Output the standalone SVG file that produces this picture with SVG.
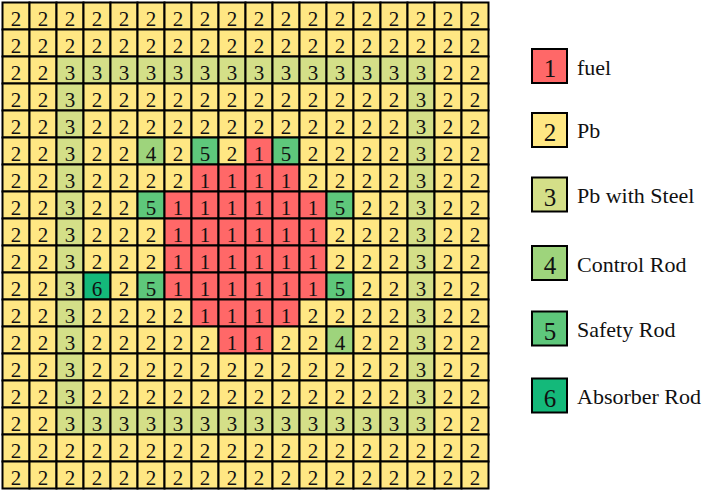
<svg xmlns="http://www.w3.org/2000/svg" width="706" height="493" viewBox="0 0 706 493" font-family="'Liberation Serif', 'DejaVu Serif', serif">
<style>
rect{width:27px;height:27px;stroke:#000;stroke-width:2}
.k1{fill:#FF6868}.k2{fill:#FFE783}.k3{fill:#D4DF88}.k4{fill:#9ED47C}.k5{fill:#5EC77B}.k6{fill:#14B97A}
text{font-family:'Liberation Serif','DejaVu Serif',serif;fill:#111}
.g text{font-size:21px;text-anchor:middle}
.lg rect{width:35px;height:34px}
.lg .d{font-size:25px;text-anchor:middle}
.lg .t{font-size:22px}
</style>
<rect x="0" y="0" width="706" height="493" style="width:706px;height:493px;fill:#fff;stroke:none"/>
<g id="grid" class="g">
<g id="row0" transform="translate(0,2.5)"><rect x="2.5" class="k2"/><text x="16" y="23">2</text><rect x="29.5" class="k2"/><text x="43" y="23">2</text><rect x="56.5" class="k2"/><text x="70" y="23">2</text><rect x="83.5" class="k2"/><text x="97" y="23">2</text><rect x="110.5" class="k2"/><text x="124" y="23">2</text><rect x="137.5" class="k2"/><text x="151" y="23">2</text><rect x="164.5" class="k2"/><text x="178" y="23">2</text><rect x="191.5" class="k2"/><text x="205" y="23">2</text><rect x="218.5" class="k2"/><text x="232" y="23">2</text><rect x="245.5" class="k2"/><text x="259" y="23">2</text><rect x="272.5" class="k2"/><text x="286" y="23">2</text><rect x="299.5" class="k2"/><text x="313" y="23">2</text><rect x="326.5" class="k2"/><text x="340" y="23">2</text><rect x="353.5" class="k2"/><text x="367" y="23">2</text><rect x="380.5" class="k2"/><text x="394" y="23">2</text><rect x="407.5" class="k2"/><text x="421" y="23">2</text><rect x="434.5" class="k2"/><text x="448" y="23">2</text><rect x="461.5" class="k2"/><text x="475" y="23">2</text></g>
<g id="row1" transform="translate(0,29.5)"><rect x="2.5" class="k2"/><text x="16" y="23">2</text><rect x="29.5" class="k2"/><text x="43" y="23">2</text><rect x="56.5" class="k2"/><text x="70" y="23">2</text><rect x="83.5" class="k2"/><text x="97" y="23">2</text><rect x="110.5" class="k2"/><text x="124" y="23">2</text><rect x="137.5" class="k2"/><text x="151" y="23">2</text><rect x="164.5" class="k2"/><text x="178" y="23">2</text><rect x="191.5" class="k2"/><text x="205" y="23">2</text><rect x="218.5" class="k2"/><text x="232" y="23">2</text><rect x="245.5" class="k2"/><text x="259" y="23">2</text><rect x="272.5" class="k2"/><text x="286" y="23">2</text><rect x="299.5" class="k2"/><text x="313" y="23">2</text><rect x="326.5" class="k2"/><text x="340" y="23">2</text><rect x="353.5" class="k2"/><text x="367" y="23">2</text><rect x="380.5" class="k2"/><text x="394" y="23">2</text><rect x="407.5" class="k2"/><text x="421" y="23">2</text><rect x="434.5" class="k2"/><text x="448" y="23">2</text><rect x="461.5" class="k2"/><text x="475" y="23">2</text></g>
<g id="row2" transform="translate(0,56.5)"><rect x="2.5" class="k2"/><text x="16" y="23">2</text><rect x="29.5" class="k2"/><text x="43" y="23">2</text><rect x="56.5" class="k3"/><text x="70" y="23">3</text><rect x="83.5" class="k3"/><text x="97" y="23">3</text><rect x="110.5" class="k3"/><text x="124" y="23">3</text><rect x="137.5" class="k3"/><text x="151" y="23">3</text><rect x="164.5" class="k3"/><text x="178" y="23">3</text><rect x="191.5" class="k3"/><text x="205" y="23">3</text><rect x="218.5" class="k3"/><text x="232" y="23">3</text><rect x="245.5" class="k3"/><text x="259" y="23">3</text><rect x="272.5" class="k3"/><text x="286" y="23">3</text><rect x="299.5" class="k3"/><text x="313" y="23">3</text><rect x="326.5" class="k3"/><text x="340" y="23">3</text><rect x="353.5" class="k3"/><text x="367" y="23">3</text><rect x="380.5" class="k3"/><text x="394" y="23">3</text><rect x="407.5" class="k3"/><text x="421" y="23">3</text><rect x="434.5" class="k2"/><text x="448" y="23">2</text><rect x="461.5" class="k2"/><text x="475" y="23">2</text></g>
<g id="row3" transform="translate(0,83.5)"><rect x="2.5" class="k2"/><text x="16" y="23">2</text><rect x="29.5" class="k2"/><text x="43" y="23">2</text><rect x="56.5" class="k3"/><text x="70" y="23">3</text><rect x="83.5" class="k2"/><text x="97" y="23">2</text><rect x="110.5" class="k2"/><text x="124" y="23">2</text><rect x="137.5" class="k2"/><text x="151" y="23">2</text><rect x="164.5" class="k2"/><text x="178" y="23">2</text><rect x="191.5" class="k2"/><text x="205" y="23">2</text><rect x="218.5" class="k2"/><text x="232" y="23">2</text><rect x="245.5" class="k2"/><text x="259" y="23">2</text><rect x="272.5" class="k2"/><text x="286" y="23">2</text><rect x="299.5" class="k2"/><text x="313" y="23">2</text><rect x="326.5" class="k2"/><text x="340" y="23">2</text><rect x="353.5" class="k2"/><text x="367" y="23">2</text><rect x="380.5" class="k2"/><text x="394" y="23">2</text><rect x="407.5" class="k3"/><text x="421" y="23">3</text><rect x="434.5" class="k2"/><text x="448" y="23">2</text><rect x="461.5" class="k2"/><text x="475" y="23">2</text></g>
<g id="row4" transform="translate(0,110.5)"><rect x="2.5" class="k2"/><text x="16" y="23">2</text><rect x="29.5" class="k2"/><text x="43" y="23">2</text><rect x="56.5" class="k3"/><text x="70" y="23">3</text><rect x="83.5" class="k2"/><text x="97" y="23">2</text><rect x="110.5" class="k2"/><text x="124" y="23">2</text><rect x="137.5" class="k2"/><text x="151" y="23">2</text><rect x="164.5" class="k2"/><text x="178" y="23">2</text><rect x="191.5" class="k2"/><text x="205" y="23">2</text><rect x="218.5" class="k2"/><text x="232" y="23">2</text><rect x="245.5" class="k2"/><text x="259" y="23">2</text><rect x="272.5" class="k2"/><text x="286" y="23">2</text><rect x="299.5" class="k2"/><text x="313" y="23">2</text><rect x="326.5" class="k2"/><text x="340" y="23">2</text><rect x="353.5" class="k2"/><text x="367" y="23">2</text><rect x="380.5" class="k2"/><text x="394" y="23">2</text><rect x="407.5" class="k3"/><text x="421" y="23">3</text><rect x="434.5" class="k2"/><text x="448" y="23">2</text><rect x="461.5" class="k2"/><text x="475" y="23">2</text></g>
<g id="row5" transform="translate(0,137.5)"><rect x="2.5" class="k2"/><text x="16" y="23">2</text><rect x="29.5" class="k2"/><text x="43" y="23">2</text><rect x="56.5" class="k3"/><text x="70" y="23">3</text><rect x="83.5" class="k2"/><text x="97" y="23">2</text><rect x="110.5" class="k2"/><text x="124" y="23">2</text><rect x="137.5" class="k4"/><text x="151" y="23">4</text><rect x="164.5" class="k2"/><text x="178" y="23">2</text><rect x="191.5" class="k5"/><text x="205" y="23">5</text><rect x="218.5" class="k2"/><text x="232" y="23">2</text><rect x="245.5" class="k1"/><text x="259" y="23">1</text><rect x="272.5" class="k5"/><text x="286" y="23">5</text><rect x="299.5" class="k2"/><text x="313" y="23">2</text><rect x="326.5" class="k2"/><text x="340" y="23">2</text><rect x="353.5" class="k2"/><text x="367" y="23">2</text><rect x="380.5" class="k2"/><text x="394" y="23">2</text><rect x="407.5" class="k3"/><text x="421" y="23">3</text><rect x="434.5" class="k2"/><text x="448" y="23">2</text><rect x="461.5" class="k2"/><text x="475" y="23">2</text></g>
<g id="row6" transform="translate(0,164.5)"><rect x="2.5" class="k2"/><text x="16" y="23">2</text><rect x="29.5" class="k2"/><text x="43" y="23">2</text><rect x="56.5" class="k3"/><text x="70" y="23">3</text><rect x="83.5" class="k2"/><text x="97" y="23">2</text><rect x="110.5" class="k2"/><text x="124" y="23">2</text><rect x="137.5" class="k2"/><text x="151" y="23">2</text><rect x="164.5" class="k2"/><text x="178" y="23">2</text><rect x="191.5" class="k1"/><text x="205" y="23">1</text><rect x="218.5" class="k1"/><text x="232" y="23">1</text><rect x="245.5" class="k1"/><text x="259" y="23">1</text><rect x="272.5" class="k1"/><text x="286" y="23">1</text><rect x="299.5" class="k2"/><text x="313" y="23">2</text><rect x="326.5" class="k2"/><text x="340" y="23">2</text><rect x="353.5" class="k2"/><text x="367" y="23">2</text><rect x="380.5" class="k2"/><text x="394" y="23">2</text><rect x="407.5" class="k3"/><text x="421" y="23">3</text><rect x="434.5" class="k2"/><text x="448" y="23">2</text><rect x="461.5" class="k2"/><text x="475" y="23">2</text></g>
<g id="row7" transform="translate(0,191.5)"><rect x="2.5" class="k2"/><text x="16" y="23">2</text><rect x="29.5" class="k2"/><text x="43" y="23">2</text><rect x="56.5" class="k3"/><text x="70" y="23">3</text><rect x="83.5" class="k2"/><text x="97" y="23">2</text><rect x="110.5" class="k2"/><text x="124" y="23">2</text><rect x="137.5" class="k5"/><text x="151" y="23">5</text><rect x="164.5" class="k1"/><text x="178" y="23">1</text><rect x="191.5" class="k1"/><text x="205" y="23">1</text><rect x="218.5" class="k1"/><text x="232" y="23">1</text><rect x="245.5" class="k1"/><text x="259" y="23">1</text><rect x="272.5" class="k1"/><text x="286" y="23">1</text><rect x="299.5" class="k1"/><text x="313" y="23">1</text><rect x="326.5" class="k5"/><text x="340" y="23">5</text><rect x="353.5" class="k2"/><text x="367" y="23">2</text><rect x="380.5" class="k2"/><text x="394" y="23">2</text><rect x="407.5" class="k3"/><text x="421" y="23">3</text><rect x="434.5" class="k2"/><text x="448" y="23">2</text><rect x="461.5" class="k2"/><text x="475" y="23">2</text></g>
<g id="row8" transform="translate(0,218.5)"><rect x="2.5" class="k2"/><text x="16" y="23">2</text><rect x="29.5" class="k2"/><text x="43" y="23">2</text><rect x="56.5" class="k3"/><text x="70" y="23">3</text><rect x="83.5" class="k2"/><text x="97" y="23">2</text><rect x="110.5" class="k2"/><text x="124" y="23">2</text><rect x="137.5" class="k2"/><text x="151" y="23">2</text><rect x="164.5" class="k1"/><text x="178" y="23">1</text><rect x="191.5" class="k1"/><text x="205" y="23">1</text><rect x="218.5" class="k1"/><text x="232" y="23">1</text><rect x="245.5" class="k1"/><text x="259" y="23">1</text><rect x="272.5" class="k1"/><text x="286" y="23">1</text><rect x="299.5" class="k1"/><text x="313" y="23">1</text><rect x="326.5" class="k2"/><text x="340" y="23">2</text><rect x="353.5" class="k2"/><text x="367" y="23">2</text><rect x="380.5" class="k2"/><text x="394" y="23">2</text><rect x="407.5" class="k3"/><text x="421" y="23">3</text><rect x="434.5" class="k2"/><text x="448" y="23">2</text><rect x="461.5" class="k2"/><text x="475" y="23">2</text></g>
<g id="row9" transform="translate(0,245.5)"><rect x="2.5" class="k2"/><text x="16" y="23">2</text><rect x="29.5" class="k2"/><text x="43" y="23">2</text><rect x="56.5" class="k3"/><text x="70" y="23">3</text><rect x="83.5" class="k2"/><text x="97" y="23">2</text><rect x="110.5" class="k2"/><text x="124" y="23">2</text><rect x="137.5" class="k2"/><text x="151" y="23">2</text><rect x="164.5" class="k1"/><text x="178" y="23">1</text><rect x="191.5" class="k1"/><text x="205" y="23">1</text><rect x="218.5" class="k1"/><text x="232" y="23">1</text><rect x="245.5" class="k1"/><text x="259" y="23">1</text><rect x="272.5" class="k1"/><text x="286" y="23">1</text><rect x="299.5" class="k1"/><text x="313" y="23">1</text><rect x="326.5" class="k2"/><text x="340" y="23">2</text><rect x="353.5" class="k2"/><text x="367" y="23">2</text><rect x="380.5" class="k2"/><text x="394" y="23">2</text><rect x="407.5" class="k3"/><text x="421" y="23">3</text><rect x="434.5" class="k2"/><text x="448" y="23">2</text><rect x="461.5" class="k2"/><text x="475" y="23">2</text></g>
<g id="row10" transform="translate(0,272.5)"><rect x="2.5" class="k2"/><text x="16" y="23">2</text><rect x="29.5" class="k2"/><text x="43" y="23">2</text><rect x="56.5" class="k3"/><text x="70" y="23">3</text><rect x="83.5" class="k6"/><text x="97" y="23">6</text><rect x="110.5" class="k2"/><text x="124" y="23">2</text><rect x="137.5" class="k5"/><text x="151" y="23">5</text><rect x="164.5" class="k1"/><text x="178" y="23">1</text><rect x="191.5" class="k1"/><text x="205" y="23">1</text><rect x="218.5" class="k1"/><text x="232" y="23">1</text><rect x="245.5" class="k1"/><text x="259" y="23">1</text><rect x="272.5" class="k1"/><text x="286" y="23">1</text><rect x="299.5" class="k1"/><text x="313" y="23">1</text><rect x="326.5" class="k5"/><text x="340" y="23">5</text><rect x="353.5" class="k2"/><text x="367" y="23">2</text><rect x="380.5" class="k2"/><text x="394" y="23">2</text><rect x="407.5" class="k3"/><text x="421" y="23">3</text><rect x="434.5" class="k2"/><text x="448" y="23">2</text><rect x="461.5" class="k2"/><text x="475" y="23">2</text></g>
<g id="row11" transform="translate(0,299.5)"><rect x="2.5" class="k2"/><text x="16" y="23">2</text><rect x="29.5" class="k2"/><text x="43" y="23">2</text><rect x="56.5" class="k3"/><text x="70" y="23">3</text><rect x="83.5" class="k2"/><text x="97" y="23">2</text><rect x="110.5" class="k2"/><text x="124" y="23">2</text><rect x="137.5" class="k2"/><text x="151" y="23">2</text><rect x="164.5" class="k2"/><text x="178" y="23">2</text><rect x="191.5" class="k1"/><text x="205" y="23">1</text><rect x="218.5" class="k1"/><text x="232" y="23">1</text><rect x="245.5" class="k1"/><text x="259" y="23">1</text><rect x="272.5" class="k1"/><text x="286" y="23">1</text><rect x="299.5" class="k2"/><text x="313" y="23">2</text><rect x="326.5" class="k2"/><text x="340" y="23">2</text><rect x="353.5" class="k2"/><text x="367" y="23">2</text><rect x="380.5" class="k2"/><text x="394" y="23">2</text><rect x="407.5" class="k3"/><text x="421" y="23">3</text><rect x="434.5" class="k2"/><text x="448" y="23">2</text><rect x="461.5" class="k2"/><text x="475" y="23">2</text></g>
<g id="row12" transform="translate(0,326.5)"><rect x="2.5" class="k2"/><text x="16" y="23">2</text><rect x="29.5" class="k2"/><text x="43" y="23">2</text><rect x="56.5" class="k3"/><text x="70" y="23">3</text><rect x="83.5" class="k2"/><text x="97" y="23">2</text><rect x="110.5" class="k2"/><text x="124" y="23">2</text><rect x="137.5" class="k2"/><text x="151" y="23">2</text><rect x="164.5" class="k2"/><text x="178" y="23">2</text><rect x="191.5" class="k2"/><text x="205" y="23">2</text><rect x="218.5" class="k1"/><text x="232" y="23">1</text><rect x="245.5" class="k1"/><text x="259" y="23">1</text><rect x="272.5" class="k2"/><text x="286" y="23">2</text><rect x="299.5" class="k2"/><text x="313" y="23">2</text><rect x="326.5" class="k4"/><text x="340" y="23">4</text><rect x="353.5" class="k2"/><text x="367" y="23">2</text><rect x="380.5" class="k2"/><text x="394" y="23">2</text><rect x="407.5" class="k3"/><text x="421" y="23">3</text><rect x="434.5" class="k2"/><text x="448" y="23">2</text><rect x="461.5" class="k2"/><text x="475" y="23">2</text></g>
<g id="row13" transform="translate(0,353.5)"><rect x="2.5" class="k2"/><text x="16" y="23">2</text><rect x="29.5" class="k2"/><text x="43" y="23">2</text><rect x="56.5" class="k3"/><text x="70" y="23">3</text><rect x="83.5" class="k2"/><text x="97" y="23">2</text><rect x="110.5" class="k2"/><text x="124" y="23">2</text><rect x="137.5" class="k2"/><text x="151" y="23">2</text><rect x="164.5" class="k2"/><text x="178" y="23">2</text><rect x="191.5" class="k2"/><text x="205" y="23">2</text><rect x="218.5" class="k2"/><text x="232" y="23">2</text><rect x="245.5" class="k2"/><text x="259" y="23">2</text><rect x="272.5" class="k2"/><text x="286" y="23">2</text><rect x="299.5" class="k2"/><text x="313" y="23">2</text><rect x="326.5" class="k2"/><text x="340" y="23">2</text><rect x="353.5" class="k2"/><text x="367" y="23">2</text><rect x="380.5" class="k2"/><text x="394" y="23">2</text><rect x="407.5" class="k3"/><text x="421" y="23">3</text><rect x="434.5" class="k2"/><text x="448" y="23">2</text><rect x="461.5" class="k2"/><text x="475" y="23">2</text></g>
<g id="row14" transform="translate(0,380.5)"><rect x="2.5" class="k2"/><text x="16" y="23">2</text><rect x="29.5" class="k2"/><text x="43" y="23">2</text><rect x="56.5" class="k3"/><text x="70" y="23">3</text><rect x="83.5" class="k2"/><text x="97" y="23">2</text><rect x="110.5" class="k2"/><text x="124" y="23">2</text><rect x="137.5" class="k2"/><text x="151" y="23">2</text><rect x="164.5" class="k2"/><text x="178" y="23">2</text><rect x="191.5" class="k2"/><text x="205" y="23">2</text><rect x="218.5" class="k2"/><text x="232" y="23">2</text><rect x="245.5" class="k2"/><text x="259" y="23">2</text><rect x="272.5" class="k2"/><text x="286" y="23">2</text><rect x="299.5" class="k2"/><text x="313" y="23">2</text><rect x="326.5" class="k2"/><text x="340" y="23">2</text><rect x="353.5" class="k2"/><text x="367" y="23">2</text><rect x="380.5" class="k2"/><text x="394" y="23">2</text><rect x="407.5" class="k3"/><text x="421" y="23">3</text><rect x="434.5" class="k2"/><text x="448" y="23">2</text><rect x="461.5" class="k2"/><text x="475" y="23">2</text></g>
<g id="row15" transform="translate(0,407.5)"><rect x="2.5" class="k2"/><text x="16" y="23">2</text><rect x="29.5" class="k2"/><text x="43" y="23">2</text><rect x="56.5" class="k3"/><text x="70" y="23">3</text><rect x="83.5" class="k3"/><text x="97" y="23">3</text><rect x="110.5" class="k3"/><text x="124" y="23">3</text><rect x="137.5" class="k3"/><text x="151" y="23">3</text><rect x="164.5" class="k3"/><text x="178" y="23">3</text><rect x="191.5" class="k3"/><text x="205" y="23">3</text><rect x="218.5" class="k3"/><text x="232" y="23">3</text><rect x="245.5" class="k3"/><text x="259" y="23">3</text><rect x="272.5" class="k3"/><text x="286" y="23">3</text><rect x="299.5" class="k3"/><text x="313" y="23">3</text><rect x="326.5" class="k3"/><text x="340" y="23">3</text><rect x="353.5" class="k3"/><text x="367" y="23">3</text><rect x="380.5" class="k3"/><text x="394" y="23">3</text><rect x="407.5" class="k3"/><text x="421" y="23">3</text><rect x="434.5" class="k2"/><text x="448" y="23">2</text><rect x="461.5" class="k2"/><text x="475" y="23">2</text></g>
<g id="row16" transform="translate(0,434.5)"><rect x="2.5" class="k2"/><text x="16" y="23">2</text><rect x="29.5" class="k2"/><text x="43" y="23">2</text><rect x="56.5" class="k2"/><text x="70" y="23">2</text><rect x="83.5" class="k2"/><text x="97" y="23">2</text><rect x="110.5" class="k2"/><text x="124" y="23">2</text><rect x="137.5" class="k2"/><text x="151" y="23">2</text><rect x="164.5" class="k2"/><text x="178" y="23">2</text><rect x="191.5" class="k2"/><text x="205" y="23">2</text><rect x="218.5" class="k2"/><text x="232" y="23">2</text><rect x="245.5" class="k2"/><text x="259" y="23">2</text><rect x="272.5" class="k2"/><text x="286" y="23">2</text><rect x="299.5" class="k2"/><text x="313" y="23">2</text><rect x="326.5" class="k2"/><text x="340" y="23">2</text><rect x="353.5" class="k2"/><text x="367" y="23">2</text><rect x="380.5" class="k2"/><text x="394" y="23">2</text><rect x="407.5" class="k2"/><text x="421" y="23">2</text><rect x="434.5" class="k2"/><text x="448" y="23">2</text><rect x="461.5" class="k2"/><text x="475" y="23">2</text></g>
<g id="row17" transform="translate(0,461.5)"><rect x="2.5" class="k2"/><text x="16" y="23">2</text><rect x="29.5" class="k2"/><text x="43" y="23">2</text><rect x="56.5" class="k2"/><text x="70" y="23">2</text><rect x="83.5" class="k2"/><text x="97" y="23">2</text><rect x="110.5" class="k2"/><text x="124" y="23">2</text><rect x="137.5" class="k2"/><text x="151" y="23">2</text><rect x="164.5" class="k2"/><text x="178" y="23">2</text><rect x="191.5" class="k2"/><text x="205" y="23">2</text><rect x="218.5" class="k2"/><text x="232" y="23">2</text><rect x="245.5" class="k2"/><text x="259" y="23">2</text><rect x="272.5" class="k2"/><text x="286" y="23">2</text><rect x="299.5" class="k2"/><text x="313" y="23">2</text><rect x="326.5" class="k2"/><text x="340" y="23">2</text><rect x="353.5" class="k2"/><text x="367" y="23">2</text><rect x="380.5" class="k2"/><text x="394" y="23">2</text><rect x="407.5" class="k2"/><text x="421" y="23">2</text><rect x="434.5" class="k2"/><text x="448" y="23">2</text><rect x="461.5" class="k2"/><text x="475" y="23">2</text></g>
</g>
<g id="legend" class="lg">
<g id="lg1"><rect x="532" y="49" class="k1"/><text class="d" x="550" y="77">1</text><text class="t" x="577" y="74.5">fuel</text></g>
<g id="lg2"><rect x="532" y="113" class="k2"/><text class="d" x="550" y="141">2</text><text class="t" x="577" y="137.5">Pb</text></g>
<g id="lg3"><rect x="532" y="177.5" class="k3"/><text class="d" x="550" y="205.5">3</text><text class="t" x="577" y="202.5">Pb with Steel</text></g>
<g id="lg4"><rect x="532" y="246" class="k4"/><text class="d" x="550" y="274">4</text><text class="t" x="577" y="271.5">Control Rod</text></g>
<g id="lg5"><rect x="532" y="311.5" class="k5"/><text class="d" x="550" y="339.5">5</text><text class="t" x="577" y="337">Safety Rod</text></g>
<g id="lg6"><rect x="532" y="378.5" class="k6"/><text class="d" x="550" y="406.5">6</text><text class="t" x="577" y="403.5">Absorber Rod</text></g>
</g>
</svg>
